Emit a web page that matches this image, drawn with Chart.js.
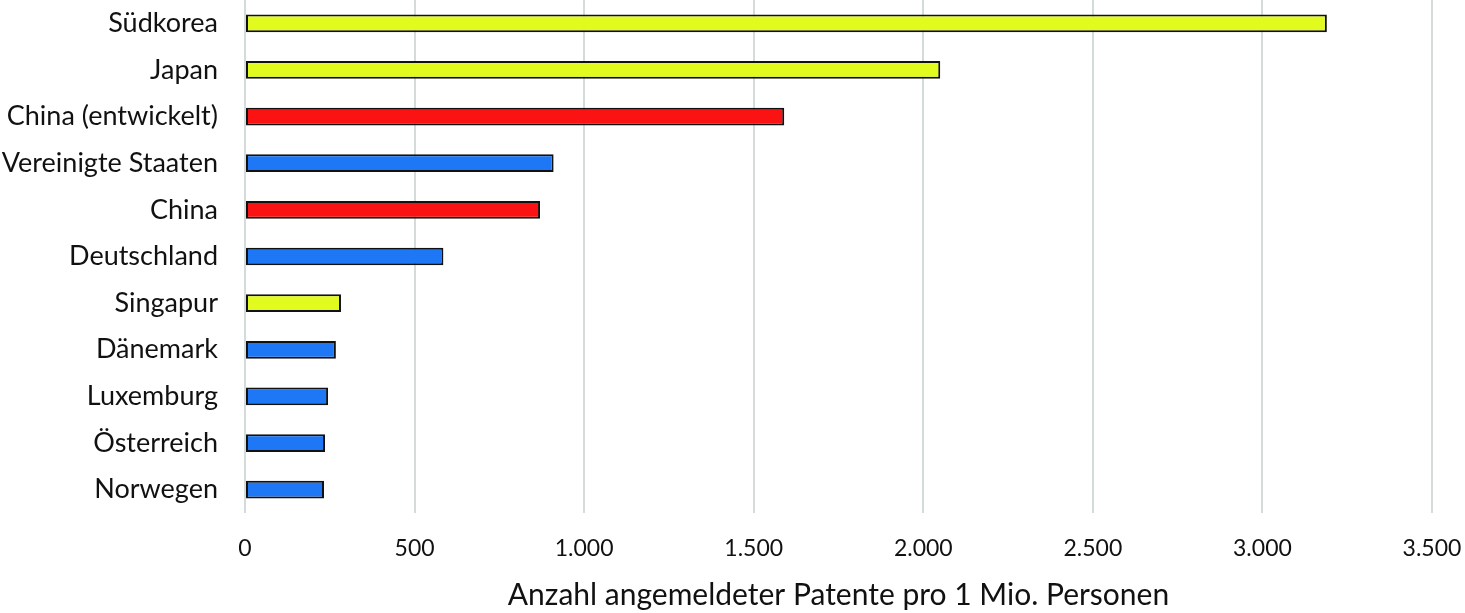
<!DOCTYPE html>
<html>
<head>
<meta charset="utf-8">
<script src="https://cdn.jsdelivr.net/npm/chart.js@4"></script>
<style>
  html, body { margin: 0; padding: 0; background: #fff; }
  #wrap { width: 1465px; height: 613px; position: relative; }
</style>
</head>
<body>
<div id="wrap"><canvas id="patentChart"></canvas></div>
<script>
// Angemeldete Patente pro 1 Mio. Personen
const countries = ["Südkorea", "Japan", "China (entwickelt)", "Vereinigte Staaten", "China",
  "Deutschland", "Singapur", "Dänemark", "Luxemburg", "Österreich", "Norwegen"];
const patents = [3190, 2050, 1590, 910, 870, 585, 283, 268, 245, 236, 233];
const groups = ["asien", "asien", "china", "west", "china", "west", "asien", "west", "west", "west", "west"];
const xTicks = [0, 500, 1000, 1500, 2000, 2500, 3000, 3500];

const groupColors = {
  asien: "#e2fb1f",
  china: "#fb1212",
  west: "#1e78f5"
};

document.addEventListener("DOMContentLoaded", function () {
  const ctx = document.getElementById("patentChart").getContext("2d");
  const fontFamily = "Lato, 'Open Sans', sans-serif";

  new Chart(ctx, {
    type: "bar",
    data: {
      labels: countries,
      datasets: [{
        data: patents,
        backgroundColor: groups.map(g => groupColors[g]),
        borderColor: "#111",
        borderWidth: 2,
        borderSkipped: false,
        barPercentage: 0.38,
        categoryPercentage: 1
      }]
    },
    options: {
      indexAxis: "y",
      responsive: true,
      maintainAspectRatio: false,
      animation: false,
      layout: { padding: { top: 0, right: 33, bottom: 0, left: 0 } },
      plugins: { legend: { display: false }, tooltip: { enabled: false } },
      scales: {
        x: {
          min: 0,
          max: 3500,
          afterBuildTicks: (scale) => { scale.ticks = xTicks.map(v => ({ value: v })); },
          grid: { color: "#d3dcdb", lineWidth: 2, drawTicks: false },
          border: { display: false },
          ticks: {
            padding: 22,
            color: "#111",
            font: { family: fontFamily, size: 23 },
            callback: (v) => v.toLocaleString("de-DE")
          },
          title: {
            display: true,
            text: "Anzahl angemeldeter Patente pro 1 Mio. Personen",
            color: "#111",
            font: { family: fontFamily, size: 30 },
            padding: { top: 8, bottom: 0 }
          },
          afterFit: (scale) => {
            scale.height = 100;
            scale.paddingLeft = 0;
            scale.paddingRight = 0;
          }
        },
        y: {
          grid: { display: false, drawTicks: false },
          border: { display: false },
          ticks: {
            padding: 27,
            color: "#111",
            font: { family: fontFamily, size: 27 }
          },
          afterFit: (scale) => {
            scale.width = 245;
            scale.paddingTop = 0;
            scale.paddingBottom = 0;
          }
        }
      }
    }
  });
});
</script>
</body>
</html>
